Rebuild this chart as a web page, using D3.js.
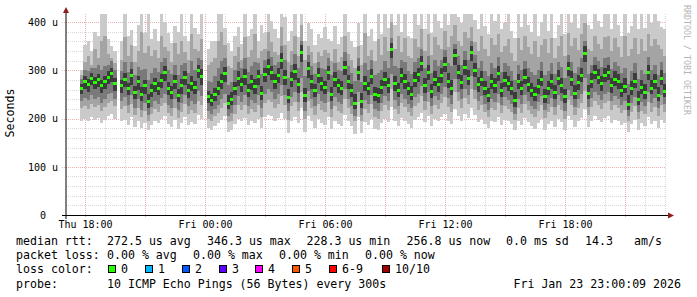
<!DOCTYPE html>
<html><head><meta charset="utf-8">
<script src="https://cdn.jsdelivr.net/npm/d3@7"></script>
<style>
html,body{margin:0;padding:0;background:#fff;}
svg{display:block;}
text{font-family:'DejaVu Sans Mono',monospace;}
</style></head><body>
<svg id="c" width="697" height="297"></svg>
<script>
// ---- data (microseconds), one value per 10-minute step starting Thu 17:45 ----
const seriesStart = "2026-01-22T17:45:00Z";
const stepMinutes = 10;
const med = [262,278,270,284,275,281,268,276,286,294, 272,null,268,282,262,290,255,276,250,268,
 236,258,272,262,280,296,262,254,276,248, 268,286,258,272,265,300,288,null,245,238,
 250,262,276,294,232,240,262,284,270,288, 258,276,266,288,252,292,309,296,278,290,
 321,286,244,282,298,270,338,247,303,276, 258,290,272,264,296,250,282,268,262,307,
 276,258,232,296,236,272,262,288,250,247, 264,282,268,344,272,258,290,276,262,251,
 280,292,315,268,296,256,282,270,290,313, 278,262,330,296,274,306,284,338,300,270,
 282,262,247,276,268,294,258,280,272,262, 238,276,262,286,270,258,249,266,282,245,
 262,276,254,284,268,245,303,282,253,274, 290,336,253,278,296,286,272,290,296,268,
 282,276,258,266,230,262,278,240,264,254, 296,262,276,248,284,257];
const mx = [300,352,362,340,380,372,420,420,366,350, 340,null,360,420,372,384,350,395,420,378,
 420,366,386,360,420,400,378,356,392,380, 420,372,360,420,388,376,420,null,345,360,
 362,420,420,388,356,340,372,390,355,420, 372,386,420,360,395,378,420,402,385,368,
 420,410,360,382,420,370,420,362,398,385, 352,375,368,390,365,360,392,355,370,420,
 380,362,348,398,352,420,372,386,362,420, 376,420,388,420,395,420,380,420,372,368,
 420,395,420,385,420,378,420,402,388,420, 395,420,420,410,398,420,420,420,405,385,
 420,392,375,420,402,420,385,398,420,382, 368,420,390,420,395,380,420,372,400,420,
 382,420,368,395,420,376,420,398,420,388, 420,420,395,385,420,402,390,420,420,385,
 420,395,372,420,378,392,420,385,420,388, 420,398,420,402,390,385];
const hi2 = [290,318,330,312,345,326,360,372,334,325, 315,null,322,370,330,352,318,340,380,336,
 350,330,342,325,372,348,340,318,356,335, 362,338,322,375,345,340,366,null,312,318,
 326,362,380,352,310,305,330,348,322,370, 328,342,376,325,340,345,380,358,338,332,
 390,352,318,340,372,330,395,322,350,338, 315,338,330,342,336,320,345,318,328,372,
 335,322,305,350,312,378,330,342,320,365, 332,370,340,400,345,372,338,368,330,325,
 366,348,385,340,375,332,370,352,345,382, 348,372,395,362,350,380,368,390,358,340,
 372,345,330,368,352,375,338,350,365,336, 320,368,342,372,348,335,362,328,352,366,
 336,368,325,350,372,330,378,350,368,342, 375,398,345,340,372,355,345,370,372,340,
 368,348,328,372,330,345,368,335,365,340, 375,350,366,352,345,330];
const hi3 = [282,300,298,305,305,312,300,310,312,320, 300,null,298,318,296,318,290,308,300,302,
 280,295,305,296,318,325,300,292,312,290, 312,316,295,320,300,326,322,null,278,275,
 288,305,320,325,270,276,300,318,305,325, 296,310,318,315,292,322,340,328,312,318,
 350,322,285,312,335,305,362,288,332,310, 292,318,306,302,325,290,315,300,298,338,
 310,295,278,325,275,315,300,322,290,295, 300,320,305,368,310,305,322,318,298,292,
 318,325,345,305,330,295,322,310,322,342, 315,310,355,330,312,340,322,362,332,305,
 320,298,288,315,305,328,296,315,310,298, 280,312,300,320,305,296,290,300,318,290,
 298,315,292,318,308,285,332,318,295,308, 325,360,292,312,328,320,308,325,328,302,
 318,310,295,305,272,298,315,282,300,292, 328,300,312,290,318,295];
const hi4 = [272,288,282,294,286,292,280,288,298,304, 284,null,280,294,274,302,268,288,266,280,
 252,272,284,276,292,310,276,268,290,262, 282,298,272,288,278,312,302,null,258,252,
 264,278,292,308,248,256,276,298,284,302, 272,290,282,300,268,306,324,310,292,304,
 336,300,262,296,314,284,352,264,318,290, 272,304,286,278,310,266,296,282,278,320,
 290,272,250,310,254,288,276,302,266,264, 280,296,284,356,288,274,306,292,276,268,
 296,306,330,284,312,272,298,286,306,328, 294,280,344,312,290,322,300,350,316,286,
 298,278,264,292,284,310,274,296,288,278, 256,292,278,302,286,274,266,282,298,262,
 278,292,270,300,284,262,318,298,270,290, 306,350,270,294,312,302,288,306,312,284,
 298,292,274,284,248,278,294,258,280,272, 312,280,292,266,300,272];
const lo4 = [250,262,256,270,262,266,254,262,272,276, 258,null,254,266,248,270,240,260,236,252,
 222,244,256,248,264,278,248,240,262,234, 252,270,242,258,250,284,270,null,232,226,
 236,248,262,276,220,228,248,268,256,270, 244,260,252,270,238,276,290,280,262,274,
 302,270,232,266,280,254,318,234,284,262, 244,274,258,250,280,236,266,254,248,290,
 262,244,220,280,222,258,248,272,236,232, 250,268,254,326,258,244,274,262,248,238,
 266,276,298,254,280,242,268,256,274,296, 264,248,312,282,262,290,270,320,286,256,
 268,248,234,262,254,278,244,266,258,248, 224,262,248,272,256,244,236,252,268,232,
 248,262,240,270,254,232,288,268,240,260, 276,318,240,264,282,272,258,276,280,254,
 268,262,244,254,218,248,264,228,250,240, 280,250,262,236,270,244];
const lo3 = [236,242,238,248,240,245,232,240,250,254, 240,null,236,244,228,248,222,240,218,232,
 208,225,236,230,242,252,228,222,240,218, 232,248,226,236,230,258,246,null,215,210,
 220,228,240,252,206,212,228,246,235,248, 226,238,232,248,222,252,262,256,240,250,
 270,248,215,244,256,234,285,216,258,240, 226,250,236,232,255,220,244,234,230,262,
 240,226,206,255,208,238,230,248,220,216, 232,246,236,292,238,226,250,240,230,222,
 244,252,268,236,255,226,246,238,250,265, 242,230,282,256,240,262,248,288,260,236,
 246,230,218,240,235,252,228,244,238,230, 210,240,230,248,236,226,220,234,246,218,
 230,242,224,248,236,216,260,246,224,240, 252,285,224,242,256,248,238,252,256,236,
 246,240,228,236,206,232,244,214,234,226, 255,232,242,222,248,230];
const lo2 = [222,226,220,230,224,228,216,224,232,236, 226,null,220,226,212,230,208,222,204,216,
 196,210,220,214,226,232,212,206,222,202, 214,230,210,218,212,236,228,null,200,196,
 206,212,222,232,192,196,210,228,218,228, 210,220,214,228,204,232,238,234,222,230,
 246,228,198,226,234,216,256,200,236,222, 208,230,218,214,234,204,226,216,212,240,
 222,210,194,234,196,220,212,230,204,200, 216,228,218,262,220,210,232,224,214,206,
 226,232,246,218,234,210,228,220,232,244, 224,214,256,236,222,242,230,262,240,218,
 228,214,204,222,218,232,212,226,220,214, 198,222,212,230,218,210,204,216,228,202,
 214,224,208,228,218,200,238,228,208,222, 232,258,208,224,236,228,220,232,236,218,
 228,222,212,218,194,214,226,200,216,210, 234,214,224,206,228,214];
const mn = [196,200,194,204,198,202,190,198,206,210, 200,null,194,198,186,204,182,196,180,190,
 176,186,196,190,200,206,188,182,198,178, 190,204,186,192,188,208,200,null,180,176,
 184,190,198,206,172,176,188,200,194,202, 186,196,190,200,180,204,208,206,196,202,
 212,200,170,196,204,190,222,172,206,194, 180,200,190,186,204,178,196,188,184,208,
 196,184,168,204,170,192,186,200,178,176, 190,200,192,224,194,184,202,196,188,180,
 198,204,212,192,206,184,200,194,204,210, 196,188,220,206,196,210,202,222,208,192,
 200,188,180,196,192,204,186,198,194,188, 176,194,186,202,192,184,178,190,200,176,
 188,196,182,200,192,176,206,198,182,194, 202,220,182,196,206,198,192,202,206,190,
 198,194,186,190,172,188,198,176,190,184, 204,188,196,180,198,190];

const yTickValues = [0,100,200,300,400];
const xTickValues = ["2026-01-22T18:00:00Z","2026-01-23T00:00:00Z","2026-01-23T06:00:00Z","2026-01-23T12:00:00Z","2026-01-23T18:00:00Z"];
const timeStart = "2026-01-22T17:00:00Z", timeEnd = "2026-01-23T23:00:00Z";
const yMax = 417;

const legendRtt = [["median rtt:",16],["272.5 us avg",107],["346.3 us max",207],["228.3 us min",306.5],["256.8 us now",406.5],["0.0 ms sd",506],["14.3",585],["am/s",634]];
const legendLoss = [["packet loss:",16],["0.00 % avg",107],["0.00 % max",193],["0.00 % min",279],["0.00 % now",365]];
const lossLabels = ["0","1","2","3","4","5","6-9","10/10"];
const lossColors = ["#26ff00","#00b8ff","#0059ff","#5e00ff","#ff00ff","#ff5500","#ff0000","#a10000"];
const lossX = [108,145,182,219,255,292,329,382];
const probeText = "10 ICMP Echo Pings (56 Bytes) every 300s";
const stampText = "Fri Jan 23 23:00:09 2026";

// ---- drawing ----
const svg = d3.select("#c");
const x = d3.scaleUtc().domain([new Date(timeStart), new Date(timeEnd)]).range([65, 665]);
const y = d3.scaleLinear().domain([0, yMax]).range([215, 14]);
const t0 = new Date(seriesStart).getTime();
const tAt = i => new Date(t0 + i*stepMinutes*60000);

svg.append("defs").append("clipPath").attr("id","pc").append("rect")
  .attr("x",66).attr("y",14).attr("width",600).attr("height",201);

// grid (behind data, dotted)
const grid = svg.append("g");
const minorC = "rgba(192,192,192,0.62)", majorC = "rgba(224,128,128,0.62)";
d3.range(20, 401, 20).forEach(v => {
  const yy = Math.round(y(v)) + 0.5, major = v % 100 === 0;
  grid.append("line").attr("x1", major ? 62 : 66).attr("x2",666).attr("y1",yy).attr("y2",yy)
    .attr("stroke", major ? majorC : minorC).attr("stroke-dasharray","1,1");
});
const hours = d3.utcHour.range(new Date("2026-01-22T18:00:00Z"), new Date("2026-01-23T23:00:01Z"));
hours.forEach(h => {
  const xx = Math.round(x(h)) + 0.5, major = h.getUTCHours() % 3 === 0;
  grid.append("line").attr("x1",xx).attr("x2",xx).attr("y1",14).attr("y2", major ? 218 : 215)
    .attr("stroke", major ? majorC : minorC).attr("stroke-dasharray","1,1");
});

const plot = svg.append("g").attr("clip-path","url(#pc)").attr("shape-rendering","crispEdges");
const bands = [[mn,mx,"#cacaca"],[lo2,hi2,"#a4a4a4"],[lo3,hi3,"#7a7a7a"],[lo4,hi4,"#3c3c3c"]];
const idx = d3.range(med.length);
bands.forEach(([lo,hi,col]) => {
  plot.append("g").selectAll("rect").data(idx.filter(i => lo[i]!=null && hi[i]!=null)).join("rect")
    .attr("x", i => x(tAt(i)))
    .attr("width", i => x(tAt(i+1)) - x(tAt(i)))
    .attr("y", i => y(hi[i]))
    .attr("height", i => y(lo[i]) - y(hi[i]))
    .attr("fill", col);
});
plot.append("g").selectAll("rect").data(idx.filter(i => med[i]!=null)).join("rect")
  .attr("x", i => x(tAt(i)))
  .attr("width", i => x(tAt(i+1)) - x(tAt(i)))
  .attr("y", i => y(med[i]) - 1.5)
  .attr("height", 3)
  .attr("fill", lossColors[0]);

// axes lines + arrows
svg.append("line").attr("x1",62).attr("x2",669).attr("y1",215.5).attr("y2",215.5).attr("stroke","#000");
svg.append("line").attr("x1",66).attr("x2",66).attr("y1",219).attr("y2",12).attr("stroke","#000");
svg.append("path").attr("d","M63,13L69,13L66,7Z").attr("fill","#8f1d1d");
svg.append("path").attr("d","M668,212.5L668,218.5L674,215.5Z").attr("fill","#8f1d1d");

// axis labels via d3 axes
const xa = svg.append("g").attr("transform","translate(0,215)")
  .call(d3.axisBottom(x).tickValues(xTickValues.map(s => new Date(s))).tickSize(0).tickPadding(6)
    .tickFormat(d3.utcFormat("%a %H:%M")));
xa.select(".domain").remove();
xa.selectAll("text").attr("font-family","DejaVu Sans Mono").attr("font-size","10px").attr("fill","#000");

const ya = svg.append("g").attr("transform","translate(66,0)")
  .call(d3.axisLeft(y).tickValues(yTickValues).tickSize(0).tickPadding(8)
    .tickFormat(v => v === 0 ? "0  " : v + " u"));
ya.select(".domain").remove();
ya.selectAll("text").attr("font-family","DejaVu Sans Mono").attr("font-size","10px").attr("fill","#000")
  .style("white-space","pre");

// unit label
svg.append("text").attr("transform","translate(14,113) rotate(-90)").attr("text-anchor","middle")
  .attr("font-size","11.6px").attr("fill","#000").text("Seconds");
// watermark
svg.append("text").attr("transform","translate(684,5) rotate(90)").attr("text-anchor","start")
  .attr("font-size","8.3px").attr("fill","#b4b4b4").text("RRDTOOL / TOBI OETIKER");

// legend
const lg = svg.append("g").attr("font-size","11.6px").attr("fill","#000");
legendRtt.forEach(([t,xx]) => lg.append("text").attr("x",xx).attr("y",245).text(t));
legendLoss.forEach(([t,xx]) => lg.append("text").attr("x",xx).attr("y",259).text(t));
lg.append("text").attr("x",16).attr("y",273).text("loss color:");
lossLabels.forEach((l,k) => {
  lg.append("rect").attr("x",lossX[k]+0.5).attr("y",265.5).attr("width",7).attr("height",7)
    .attr("fill",lossColors[k]).attr("stroke","#000");
  lg.append("text").attr("x",lossX[k]+13).attr("y",273).text(l);
});
lg.append("text").attr("x",16).attr("y",287.5).text("probe:");
lg.append("text").attr("x",107).attr("y",287.5).text(probeText);
lg.append("text").attr("x",681).attr("y",287.5).attr("text-anchor","end").text(stampText);
</script>
</body></html>
